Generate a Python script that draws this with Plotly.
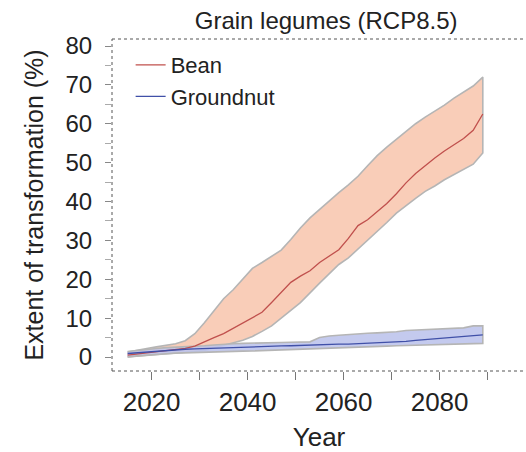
import plotly.graph_objects as go

years = list(range(2015, 2090, 2))

bean_median = [0.5, 0.8, 1.0, 1.3, 1.6, 1.9, 2.2, 2.8, 4.0, 5.0, 6.0, 7.4, 8.8, 10.3, 11.5, 14.0,
               16.5, 19.2, 20.8, 22.2, 24.3, 25.9, 27.6, 30.5, 33.8, 35.3, 37.3, 39.5, 42.0, 44.8,
               47.2, 49.3, 51.2, 53.0, 54.5, 56.2, 58.3, 62.5]
bean_upper = [1.3, 1.8, 2.2, 2.6, 3.0, 3.4, 4.2, 6.0, 8.8, 12.0, 15.0, 17.3, 20.0, 22.8, 24.3, 25.8,
              27.5, 30.2, 33.2, 35.8, 38.0, 40.3, 42.3, 44.3, 46.5, 49.2, 51.8, 54.0, 56.0, 58.0,
              60.0, 61.7, 63.2, 64.8, 66.6, 68.2, 69.7, 72.0]
bean_lower = [0.0, 0.2, 0.4, 0.6, 0.8, 1.0, 1.2, 1.4, 1.7, 2.2, 3.0, 3.6, 4.3, 5.3, 6.6, 8.0,
              10.0, 12.0, 14.0, 16.5, 19.0, 21.5, 23.8, 25.5, 27.8, 30.2, 32.3, 34.6, 37.0, 39.0,
              40.8, 42.6, 44.0, 45.6, 47.0, 48.3, 49.6, 52.5]

gnut_median = [0.9, 1.1, 1.3, 1.5, 1.7, 1.9, 2.0, 2.1, 2.2, 2.3, 2.4, 2.5, 2.55, 2.6, 2.7, 2.8,
               2.85, 2.9, 3.0, 3.1, 3.2, 3.2, 3.3, 3.3, 3.4, 3.5, 3.6, 3.7, 3.8, 4.0,
               4.3, 4.5, 4.6, 4.8, 5.0, 5.2, 5.5, 5.7]
gnut_upper = [1.4, 1.7, 2.0, 2.2, 2.4, 2.5, 2.6, 2.7, 2.9, 3.1, 3.3, 3.4, 3.5, 3.6, 3.65, 3.7,
              3.75, 3.8, 3.85, 3.9, 5.0, 5.4, 5.6, 5.8, 6.0, 6.1, 6.2, 6.3, 6.5, 6.8,
              6.9, 7.0, 7.1, 7.2, 7.3, 7.5, 8.0, 8.0]
gnut_lower = [0.0, 0.3, 0.5, 0.7, 0.85, 1.0, 1.1, 1.2, 1.3, 1.35, 1.4, 1.45, 1.5, 1.55, 1.6, 1.65,
              1.7, 1.8, 1.9, 2.0, 2.1, 2.2, 2.3, 2.4, 2.5, 2.6, 2.7, 2.8, 2.9, 3.0,
              3.05, 3.1, 3.2, 3.25, 3.3, 3.4, 3.45, 3.5]

x_ticks = [2020, 2040, 2060, 2080]
y_ticks = [0, 10, 20, 30, 40, 50, 60, 70, 80]

FONT = "Liberation Sans, Arial, sans-serif"
TXT = "#222222"

fig = go.Figure()

def band(lower, upper, fill):
    fig.add_trace(go.Scatter(
        x=years + years[::-1], y=upper + lower[::-1], fill="toself", fillcolor=fill,
        mode="lines", line=dict(color="#b5b5b5", width=1.6), showlegend=False, hoverinfo="skip"))

band(bean_lower, bean_upper, "#f9cdb8")
band(gnut_lower, gnut_upper, "rgba(190,196,236,0.9)")

fig.add_trace(go.Scatter(x=years, y=bean_median, mode="lines", name="Bean",
                         line=dict(color="#c0504d", width=1.3)))
fig.add_trace(go.Scatter(x=years, y=gnut_median, mode="lines", name="Groundnut",
                         line=dict(color="#4050a8", width=1.3)))

axis_col = "#555555"
fig.update_layout(
    width=526, height=452,
    margin=dict(l=112, r=0, t=39, b=81),
    paper_bgcolor="white", plot_bgcolor="white",
    font=dict(family=FONT, size=24, color=TXT),
    title=dict(text="Grain legumes (RCP8.5)", x=0.62, xanchor="center", y=0.955, yanchor="middle",
               font=dict(size=24, color=TXT)),
    showlegend=True,
    legend=dict(x=0.045, y=0.985, xanchor="left", yanchor="top", bgcolor="rgba(0,0,0,0)",
                font=dict(size=22, color=TXT), tracegroupgap=0),
    shapes=[
        dict(type="line", xref="paper", yref="paper", x0=0, x1=1, y0=1, y1=1,
             line=dict(color=axis_col, width=1, dash="dot")),
        dict(type="line", xref="paper", yref="paper", x0=0, x1=0, y0=0, y1=1,
             line=dict(color=axis_col, width=1, dash="dot")),
        dict(type="line", xref="paper", yref="paper", x0=0, x1=1, y0=0, y1=0,
             line=dict(color=axis_col, width=1, dash="dot")),
    ],
)

fig.update_xaxes(
    range=[2011.75, 2098], tickvals=x_ticks, ticktext=[str(v) for v in x_ticks],
    ticks="outside", ticklen=8, tickcolor="#777777", tickwidth=1.2,
    minor=dict(dtick=10, tick0=2010, ticks="outside", ticklen=8, tickcolor="#777777", tickwidth=1.2),
    showgrid=False, zeroline=False, showline=False,
    tickfont=dict(size=26, color=TXT),
    title=dict(text="Year", font=dict(size=26, color=TXT), standoff=14),
)
fig.update_yaxes(
    range=[-3.6, 81.8], tickvals=y_ticks, ticktext=[str(v) for v in y_ticks],
    ticks="outside", ticklen=6, tickcolor="#888888", tickwidth=1.2,
    minor=dict(dtick=5, tick0=0, ticks="outside", ticklen=6, tickcolor="#aaaaaa", tickwidth=1),
    showgrid=False, zeroline=False, showline=False,
    tickfont=dict(size=24, color=TXT), ticklabelstandoff=8,
    title=dict(text="Extent of transformation (%)", font=dict(size=25, color=TXT), standoff=14),
)

fig.write_html("out.html")
